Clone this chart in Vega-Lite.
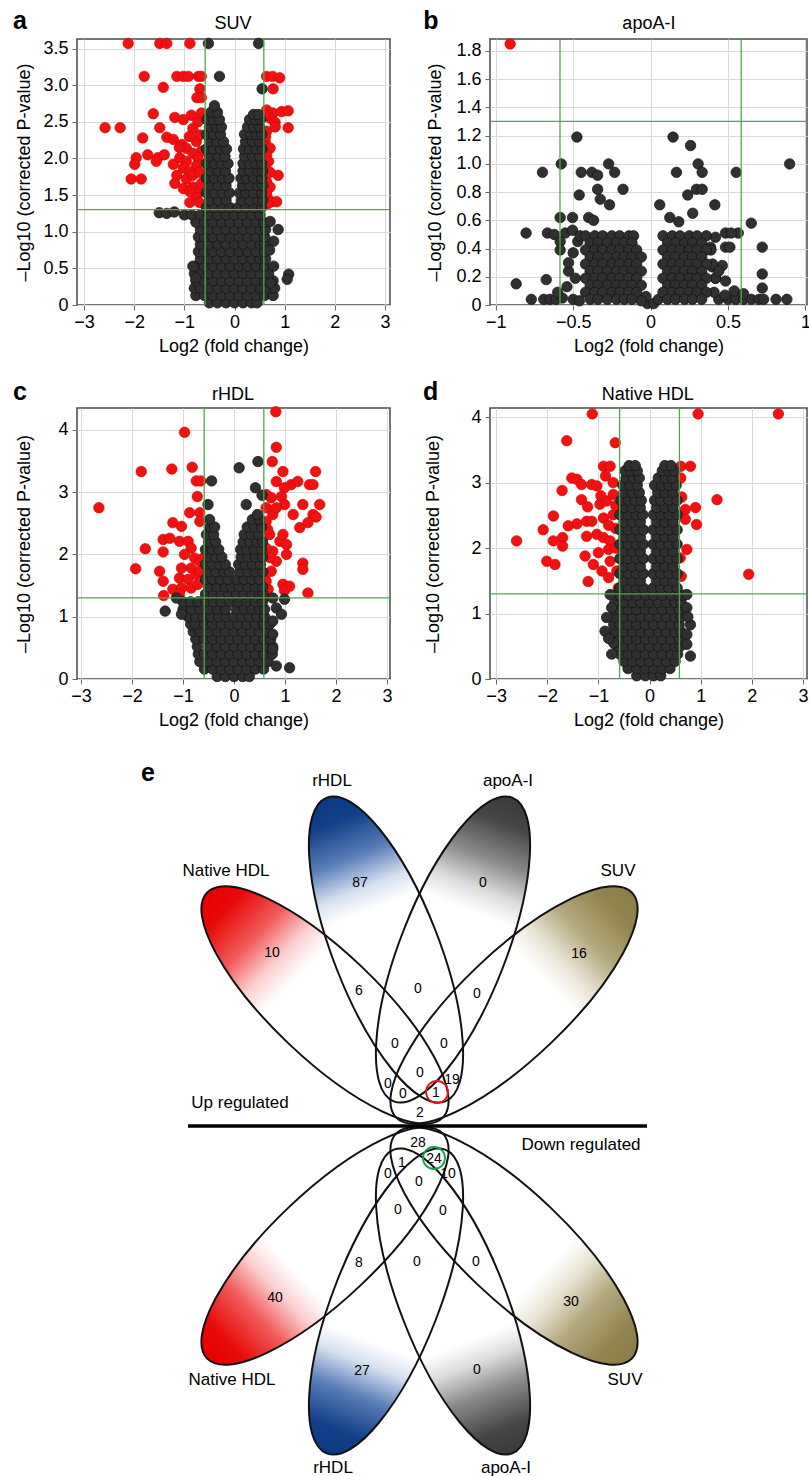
{
"$schema": "https://vega.github.io/schema/vega-lite/v6.json",
"background": "white",
"padding": {"left": 12, "top": 8, "right": 0, "bottom": 0},
"bounds": "flush",
"columns": 2,
"align": "none",
"spacing": {"row": 103, "column": 100},
"config": {
  "font": "Liberation Sans",
  "view": {"stroke": "#4a4a4a", "strokeWidth": 1.5},
  "axis": {"labelFontSize": 18, "titleFontSize": 18, "titleFontWeight": "normal", "labelColor": "#000", "titleColor": "#000", "gridColor": "#d9d9d9", "tickColor": "#666", "tickSize": 5, "domain": false, "labelFlush": false, "labelOverlap": false},
  "axisX": {"labelPadding": 3, "titlePadding": 6},
  "axisY": {"labelPadding": 4}
},
"datasets": {
"va": [{"x":-2.12,"y":3.57},{"x":-1.49,"y":3.57},{"x":-1.35,"y":3.57},{"x":-0.89,"y":3.57},{"x":-1.8,"y":3.12},{"x":-1.15,"y":3.12},{"x":-1.02,"y":3.12},{"x":-0.92,"y":3.12},{"x":-0.72,"y":3.12},{"x":-0.66,"y":3.12},{"x":0.64,"y":3.12},{"x":0.76,"y":3.12},{"x":0.9,"y":3.1},{"x":-1.42,"y":2.97},{"x":-0.69,"y":2.95},{"x":-0.75,"y":2.83},{"x":-0.66,"y":2.83},{"x":0.77,"y":2.95},{"x":-1.62,"y":2.61},{"x":-1.19,"y":2.56},{"x":-0.86,"y":2.59},{"x":-0.73,"y":2.5},{"x":-0.83,"y":2.41},{"x":-1.02,"y":2.53},{"x":-0.66,"y":2.62},{"x":0.64,"y":2.66},{"x":0.77,"y":2.62},{"x":0.94,"y":2.64},{"x":1.07,"y":2.65},{"x":0.71,"y":2.55},{"x":0.81,"y":2.49},{"x":0.61,"y":2.59},{"x":-2.58,"y":2.42},{"x":-2.28,"y":2.42},{"x":-1.49,"y":2.42},{"x":1.07,"y":2.42},{"x":0.81,"y":2.43},{"x":-1.83,"y":2.28},{"x":-1.35,"y":2.29},{"x":-1.22,"y":2.26},{"x":-1.05,"y":2.19},{"x":-0.96,"y":2.14},{"x":-0.76,"y":2.23},{"x":-0.69,"y":2.32},{"x":-0.9,"y":2.3},{"x":-1.1,"y":2.15},{"x":-0.66,"y":2.1},{"x":0.64,"y":2.37},{"x":0.61,"y":2.23},{"x":0.71,"y":2.14},{"x":0.64,"y":2.05},{"x":0.68,"y":1.96},{"x":0.62,"y":2.3},{"x":0.62,"y":1.88},{"x":-1.96,"y":2.01},{"x":-1.73,"y":2.05},{"x":-1.53,"y":2.01},{"x":-1.4,"y":2.05},{"x":-1.99,"y":1.92},{"x":-1.22,"y":1.92},{"x":-1.09,"y":2.01},{"x":-0.96,"y":1.96},{"x":-0.83,"y":2.07},{"x":-0.73,"y":2.01},{"x":-1.02,"y":1.87},{"x":-0.76,"y":1.9},{"x":-0.9,"y":1.82},{"x":-1.56,"y":1.96},{"x":-2.06,"y":1.72},{"x":-1.86,"y":1.72},{"x":-1.15,"y":1.77},{"x":-0.96,"y":1.72},{"x":-0.83,"y":1.77},{"x":-0.69,"y":1.81},{"x":-1.19,"y":1.66},{"x":-1.02,"y":1.59},{"x":-0.83,"y":1.61},{"x":-0.69,"y":1.55},{"x":-0.76,"y":1.47},{"x":-0.89,"y":1.55},{"x":-0.89,"y":1.4},{"x":-0.7,"y":1.4},{"x":-0.66,"y":1.66},{"x":0.64,"y":1.68},{"x":0.71,"y":1.61},{"x":0.87,"y":1.77},{"x":0.64,"y":1.5},{"x":0.74,"y":1.41},{"x":0.84,"y":1.41},{"x":0.64,"y":1.55},{"x":0.71,"y":1.81},{"x":0.66,"y":1.38},
{"x":-0.5,"y":0.03},{"x":-0.34,"y":0.03},{"x":-0.17,"y":0.03},{"x":0,"y":0.03},{"x":0.17,"y":0.03},{"x":0.34,"y":0.03},{"x":0.45,"y":0.03},
{"x":-0.77,"y":0.13},{"x":-0.6,"y":0.13},{"x":-0.43,"y":0.13},{"x":-0.26,"y":0.13},{"x":-0.09,"y":0.13},{"x":0.09,"y":0.13},{"x":0.26,"y":0.13},{"x":0.43,"y":0.13},{"x":0.6,"y":0.13},{"x":0.77,"y":0.13},
{"x":-0.8,"y":0.23},{"x":-0.68,"y":0.23},{"x":-0.51,"y":0.23},{"x":-0.34,"y":0.23},{"x":-0.17,"y":0.23},{"x":0,"y":0.23},{"x":0.17,"y":0.23},{"x":0.34,"y":0.23},{"x":0.51,"y":0.23},{"x":0.68,"y":0.23},{"x":0.8,"y":0.23},
{"x":-0.77,"y":0.33},{"x":-0.6,"y":0.33},{"x":-0.43,"y":0.33},{"x":-0.26,"y":0.33},{"x":-0.09,"y":0.33},{"x":0.09,"y":0.33},{"x":0.26,"y":0.33},{"x":0.43,"y":0.33},{"x":0.6,"y":0.33},{"x":0.77,"y":0.33},
{"x":-0.8,"y":0.43},{"x":-0.68,"y":0.43},{"x":-0.51,"y":0.43},{"x":-0.34,"y":0.43},{"x":-0.17,"y":0.43},{"x":0,"y":0.43},{"x":0.17,"y":0.43},{"x":0.34,"y":0.43},{"x":0.51,"y":0.43},{"x":0.68,"y":0.43},
{"x":-0.77,"y":0.53},{"x":-0.6,"y":0.53},{"x":-0.43,"y":0.53},{"x":-0.26,"y":0.53},{"x":-0.09,"y":0.53},{"x":0.09,"y":0.53},{"x":0.26,"y":0.53},{"x":0.43,"y":0.53},{"x":0.6,"y":0.53},
{"x":-0.68,"y":0.63},{"x":-0.51,"y":0.63},{"x":-0.34,"y":0.63},{"x":-0.17,"y":0.63},{"x":0,"y":0.63},{"x":0.17,"y":0.63},{"x":0.34,"y":0.63},{"x":0.51,"y":0.63},{"x":0.62,"y":0.63},
{"x":-0.72,"y":0.73},{"x":-0.6,"y":0.73},{"x":-0.43,"y":0.73},{"x":-0.26,"y":0.73},{"x":-0.09,"y":0.73},{"x":0.09,"y":0.73},{"x":0.26,"y":0.73},{"x":0.43,"y":0.73},{"x":0.6,"y":0.73},
{"x":-0.68,"y":0.83},{"x":-0.51,"y":0.83},{"x":-0.34,"y":0.83},{"x":-0.17,"y":0.83},{"x":0,"y":0.83},{"x":0.17,"y":0.83},{"x":0.34,"y":0.83},{"x":0.51,"y":0.83},{"x":0.6,"y":0.83},
{"x":-0.72,"y":0.93},{"x":-0.6,"y":0.93},{"x":-0.43,"y":0.93},{"x":-0.26,"y":0.93},{"x":-0.09,"y":0.93},{"x":0.09,"y":0.93},{"x":0.26,"y":0.93},{"x":0.43,"y":0.93},{"x":0.6,"y":0.93},
{"x":-0.68,"y":1.03},{"x":-0.51,"y":1.03},{"x":-0.34,"y":1.03},{"x":-0.17,"y":1.03},{"x":0,"y":1.03},{"x":0.17,"y":1.03},{"x":0.34,"y":1.03},{"x":0.51,"y":1.03},{"x":0.62,"y":1.03},
{"x":-0.77,"y":1.13},{"x":-0.6,"y":1.13},{"x":-0.43,"y":1.13},{"x":-0.26,"y":1.13},{"x":-0.09,"y":1.13},{"x":0.09,"y":1.13},{"x":0.26,"y":1.13},{"x":0.43,"y":1.13},{"x":0.58,"y":1.13},
{"x":-1.0,"y":1.23},{"x":-0.85,"y":1.23},{"x":-0.68,"y":1.23},{"x":-0.51,"y":1.23},{"x":-0.34,"y":1.23},{"x":-0.17,"y":1.23},{"x":0,"y":1.23},{"x":0.17,"y":1.23},{"x":0.34,"y":1.23},{"x":0.51,"y":1.23},
{"x":-1.5,"y":1.26},{"x":-1.35,"y":1.25},{"x":-1.2,"y":1.27},
{"x":-0.56,"y":1.33},{"x":-0.4,"y":1.33},{"x":-0.24,"y":1.33},{"x":-0.09,"y":1.33},{"x":0.07,"y":1.33},{"x":0.22,"y":1.33},{"x":0.38,"y":1.33},{"x":0.54,"y":1.33},
{"x":-0.5,"y":1.43},{"x":-0.33,"y":1.43},{"x":-0.17,"y":1.43},{"x":0.14,"y":1.43},{"x":0.3,"y":1.43},{"x":0.46,"y":1.43},{"x":0.56,"y":1.43},
{"x":-0.56,"y":1.53},{"x":-0.4,"y":1.53},{"x":-0.24,"y":1.53},{"x":-0.1,"y":1.53},{"x":0.1,"y":1.53},{"x":0.22,"y":1.53},{"x":0.38,"y":1.53},{"x":0.54,"y":1.53},
{"x":-0.5,"y":1.63},{"x":-0.33,"y":1.63},{"x":-0.17,"y":1.63},{"x":0.16,"y":1.63},{"x":0.3,"y":1.63},{"x":0.46,"y":1.63},{"x":0.56,"y":1.63},
{"x":-0.56,"y":1.73},{"x":-0.4,"y":1.73},{"x":-0.24,"y":1.73},{"x":-0.11,"y":1.73},{"x":0.13,"y":1.73},{"x":0.24,"y":1.73},{"x":0.38,"y":1.73},{"x":0.54,"y":1.73},
{"x":-0.5,"y":1.83},{"x":-0.33,"y":1.83},{"x":-0.18,"y":1.83},{"x":0.17,"y":1.83},{"x":0.3,"y":1.83},{"x":0.46,"y":1.83},{"x":0.56,"y":1.83},
{"x":-0.56,"y":1.93},{"x":-0.4,"y":1.93},{"x":-0.26,"y":1.93},{"x":-0.13,"y":1.93},{"x":0.17,"y":1.93},{"x":0.3,"y":1.93},{"x":0.42,"y":1.93},{"x":0.54,"y":1.93},
{"x":-0.5,"y":2.03},{"x":-0.33,"y":2.03},{"x":-0.19,"y":2.03},{"x":0.2,"y":2.03},{"x":0.36,"y":2.03},{"x":0.5,"y":2.03},
{"x":-0.56,"y":2.13},{"x":-0.42,"y":2.13},{"x":-0.28,"y":2.13},{"x":-0.16,"y":2.13},{"x":0.18,"y":2.13},{"x":0.3,"y":2.13},{"x":0.43,"y":2.13},{"x":0.55,"y":2.13},
{"x":-0.5,"y":2.23},{"x":-0.35,"y":2.23},{"x":-0.22,"y":2.23},{"x":0.22,"y":2.23},{"x":0.36,"y":2.23},{"x":0.5,"y":2.23},
{"x":-0.56,"y":2.33},{"x":-0.42,"y":2.33},{"x":-0.28,"y":2.33},{"x":0.2,"y":2.33},{"x":0.32,"y":2.33},{"x":0.44,"y":2.33},{"x":0.54,"y":2.33},
{"x":-0.5,"y":2.43},{"x":-0.36,"y":2.43},{"x":-0.26,"y":2.43},{"x":0.26,"y":2.43},{"x":0.38,"y":2.43},{"x":0.5,"y":2.43},
{"x":-0.55,"y":2.53},{"x":-0.42,"y":2.53},{"x":-0.3,"y":2.53},{"x":0.3,"y":2.53},{"x":0.42,"y":2.53},{"x":0.52,"y":2.53},
{"x":-0.47,"y":2.63},{"x":-0.34,"y":2.63},{"x":0.38,"y":2.6},{"x":0.47,"y":2.6},{"x":-0.4,"y":2.72},
{"x":-0.3,"y":3.12},{"x":0.55,"y":2.95},{"x":-0.52,"y":3.57},{"x":0.48,"y":3.57},{"x":0.87,"y":1.03},{"x":0.71,"y":1.14},{"x":0.78,"y":0.87},{"x":0.78,"y":0.53},{"x":1.08,"y":0.42},{"x":1.05,"y":0.35},{"x":-0.83,"y":0.53},{"x":-0.77,"y":0.37},{"x":0.7,"y":0.75},{"x":0.72,"y":0.3}],
"vb": [{"x":-0.907,"y":1.85},
{"x":-0.476,"y":1.19},{"x":0.145,"y":1.19},{"x":0.258,"y":1.13},{"x":-0.577,"y":1.0},{"x":-0.271,"y":1.0},{"x":0.307,"y":1.0},{"x":0.898,"y":1.0},{"x":-0.698,"y":0.94},{"x":-0.448,"y":0.94},{"x":-0.379,"y":0.94},{"x":-0.342,"y":0.92},{"x":-0.232,"y":0.94},{"x":0.167,"y":0.94},{"x":0.333,"y":0.94},{"x":0.553,"y":0.94},{"x":-0.342,"y":0.82},{"x":-0.178,"y":0.82},{"x":0.296,"y":0.82},{"x":0.333,"y":0.82},{"x":-0.461,"y":0.78},{"x":-0.325,"y":0.75},{"x":0.24,"y":0.78},{"x":-0.265,"y":0.71},{"x":0.059,"y":0.71},{"x":0.415,"y":0.71},{"x":0.272,"y":0.65},{"x":-0.584,"y":0.62},{"x":-0.504,"y":0.62},{"x":-0.4,"y":0.62},{"x":-0.368,"y":0.6},{"x":0.124,"y":0.62},{"x":0.182,"y":0.59},{"x":0.65,"y":0.58},{"x":-0.804,"y":0.51},{"x":-0.666,"y":0.51},{"x":-0.622,"y":0.5},{"x":-0.551,"y":0.51},{"x":-0.504,"y":0.53},{"x":-0.584,"y":0.45},{"x":-0.584,"y":0.39},{"x":0.419,"y":0.48},{"x":0.484,"y":0.51},{"x":0.566,"y":0.51},{"x":0.52,"y":0.51},{"x":0.484,"y":0.41},{"x":0.512,"y":0.41},{"x":0.387,"y":0.41},{"x":0.721,"y":0.41},{"x":0.398,"y":0.27},{"x":0.463,"y":0.28},{"x":0.419,"y":0.19},{"x":0.484,"y":0.17},{"x":0.721,"y":0.22},{"x":0.721,"y":0.12},{"x":-0.674,"y":0.18},{"x":-0.868,"y":0.15},{"x":-0.53,"y":0.24},{"x":-0.486,"y":0.19},{"x":-0.54,"y":0.13},{"x":-0.53,"y":0.3},{"x":-0.5,"y":0.37},{"x":-0.47,"y":0.45},{"x":-0.455,"y":0.49},
{"x":-0.77,"y":0.04},{"x":-0.69,"y":0.04},{"x":-0.65,"y":0.04},{"x":-0.61,"y":0.04},{"x":-0.57,"y":0.05},{"x":-0.5,"y":0.04},{"x":-0.46,"y":0.03},{"x":0.44,"y":0.04},{"x":0.5,"y":0.04},{"x":0.55,"y":0.04},{"x":0.6,"y":0.04},{"x":0.65,"y":0.04},{"x":0.7,"y":0.04},{"x":0.73,"y":0.04},{"x":0.81,"y":0.04},{"x":0.88,"y":0.04},{"x":-0.02,"y":0.01},{"x":0.02,"y":0.01},{"x":0.05,"y":0.04},{"x":-0.03,"y":0.06},{"x":0.54,"y":0.1},{"x":0.6,"y":0.08},{"x":0.48,"y":0.07},{"x":-0.6,"y":0.09},
{"x":0.4,"y":0.29},{"x":0.42,"y":0.19},{"x":0.41,"y":0.09},{"x":0.39,"y":0.39},{"x":0.44,"y":0.24},
{"x":-0.42,"y":0.49},{"x":-0.36,"y":0.49},{"x":-0.31,"y":0.49},{"x":-0.25,"y":0.49},{"x":-0.2,"y":0.49},{"x":-0.14,"y":0.49},{"x":-0.11,"y":0.49},{"x":0.08,"y":0.49},{"x":0.14,"y":0.49},{"x":0.19,"y":0.49},{"x":0.25,"y":0.49},{"x":0.3,"y":0.49},{"x":0.36,"y":0.49},
{"x":-0.39,"y":0.44},{"x":-0.34,"y":0.44},{"x":-0.28,"y":0.44},{"x":-0.22,"y":0.44},{"x":-0.17,"y":0.44},{"x":-0.12,"y":0.44},{"x":0.11,"y":0.44},{"x":0.16,"y":0.44},{"x":0.22,"y":0.44},{"x":0.27,"y":0.44},{"x":0.33,"y":0.44},
{"x":-0.42,"y":0.39},{"x":-0.36,"y":0.39},{"x":-0.31,"y":0.39},{"x":-0.25,"y":0.39},{"x":-0.2,"y":0.39},{"x":-0.14,"y":0.39},{"x":-0.09,"y":0.39},{"x":0.08,"y":0.39},{"x":0.14,"y":0.39},{"x":0.19,"y":0.39},{"x":0.25,"y":0.39},{"x":0.3,"y":0.39},{"x":0.36,"y":0.39},
{"x":-0.39,"y":0.34},{"x":-0.34,"y":0.34},{"x":-0.28,"y":0.34},{"x":-0.22,"y":0.34},{"x":-0.17,"y":0.34},{"x":-0.12,"y":0.34},{"x":-0.06,"y":0.34},{"x":0.11,"y":0.34},{"x":0.16,"y":0.34},{"x":0.22,"y":0.34},{"x":0.27,"y":0.34},{"x":0.33,"y":0.34},
{"x":-0.42,"y":0.29},{"x":-0.36,"y":0.29},{"x":-0.31,"y":0.29},{"x":-0.25,"y":0.29},{"x":-0.2,"y":0.29},{"x":-0.14,"y":0.29},{"x":-0.09,"y":0.29},{"x":0.08,"y":0.29},{"x":0.14,"y":0.29},{"x":0.19,"y":0.29},{"x":0.25,"y":0.29},{"x":0.3,"y":0.29},{"x":0.36,"y":0.29},
{"x":-0.39,"y":0.24},{"x":-0.34,"y":0.24},{"x":-0.28,"y":0.24},{"x":-0.22,"y":0.24},{"x":-0.17,"y":0.24},{"x":-0.12,"y":0.24},{"x":-0.06,"y":0.24},{"x":0.11,"y":0.24},{"x":0.16,"y":0.24},{"x":0.22,"y":0.24},{"x":0.27,"y":0.24},{"x":0.33,"y":0.24},
{"x":-0.42,"y":0.19},{"x":-0.36,"y":0.19},{"x":-0.31,"y":0.19},{"x":-0.25,"y":0.19},{"x":-0.2,"y":0.19},{"x":-0.14,"y":0.19},{"x":-0.09,"y":0.19},{"x":0.08,"y":0.19},{"x":0.14,"y":0.19},{"x":0.19,"y":0.19},{"x":0.25,"y":0.19},{"x":0.3,"y":0.19},{"x":0.36,"y":0.19},
{"x":-0.39,"y":0.14},{"x":-0.34,"y":0.14},{"x":-0.28,"y":0.14},{"x":-0.22,"y":0.14},{"x":-0.17,"y":0.14},{"x":-0.12,"y":0.14},{"x":-0.06,"y":0.14},{"x":0.11,"y":0.14},{"x":0.16,"y":0.14},{"x":0.22,"y":0.14},{"x":0.27,"y":0.14},{"x":0.33,"y":0.14},
{"x":-0.42,"y":0.09},{"x":-0.36,"y":0.09},{"x":-0.31,"y":0.09},{"x":-0.25,"y":0.09},{"x":-0.2,"y":0.09},{"x":-0.14,"y":0.09},{"x":-0.09,"y":0.09},{"x":0.08,"y":0.09},{"x":0.14,"y":0.09},{"x":0.19,"y":0.09},{"x":0.25,"y":0.09},{"x":0.3,"y":0.09},{"x":0.36,"y":0.09},
{"x":-0.39,"y":0.04},{"x":-0.34,"y":0.04},{"x":-0.28,"y":0.04},{"x":-0.22,"y":0.04},{"x":-0.17,"y":0.04},{"x":-0.12,"y":0.04},{"x":-0.06,"y":0.03},{"x":0.11,"y":0.04},{"x":0.16,"y":0.04},{"x":0.22,"y":0.04},{"x":0.27,"y":0.04},{"x":0.33,"y":0.04}],
"vc": [{"x":-2.65,"y":2.75},{"x":-1.82,"y":3.33},{"x":-1.93,"y":1.77},{"x":-1.74,"y":2.09},{"x":-1.39,"y":2.24},{"x":-1.26,"y":2.26},{"x":-1.39,"y":2.04},{"x":-1.2,"y":2.51},{"x":-1.03,"y":2.45},{"x":-1.22,"y":3.37},{"x":-0.97,"y":3.96},{"x":-0.82,"y":3.4},{"x":-0.74,"y":3.18},{"x":-0.65,"y":3.18},{"x":-0.72,"y":2.93},{"x":-0.87,"y":2.67},{"x":-0.67,"y":2.67},{"x":-0.67,"y":2.53},{"x":-1.07,"y":2.21},{"x":-0.9,"y":2.21},{"x":-0.84,"y":2.1},{"x":-0.97,"y":2.0},{"x":-0.77,"y":1.94},{"x":-1.03,"y":1.78},{"x":-0.84,"y":1.78},{"x":-0.67,"y":1.89},{"x":-1.46,"y":1.73},{"x":-1.39,"y":1.57},{"x":-1.07,"y":1.62},{"x":-0.9,"y":1.6},{"x":-0.74,"y":1.68},{"x":-0.67,"y":1.73},{"x":-0.61,"y":1.94},{"x":-1.2,"y":1.44},{"x":-1.03,"y":1.46},{"x":-0.84,"y":1.46},{"x":-0.71,"y":1.52},{"x":-1.38,"y":1.34},{"x":-1.07,"y":1.37},
{"x":0.82,"y":4.29},{"x":0.83,"y":3.72},{"x":0.75,"y":3.49},{"x":0.96,"y":3.33},{"x":1.6,"y":3.33},{"x":1.12,"y":3.12},{"x":1.25,"y":3.17},{"x":0.83,"y":3.17},{"x":0.99,"y":3.07},{"x":1.48,"y":3.12},{"x":1.55,"y":3.12},{"x":0.63,"y":2.96},{"x":0.73,"y":2.91},{"x":0.93,"y":2.93},{"x":0.76,"y":2.64},{"x":0.99,"y":2.8},{"x":0.63,"y":2.75},{"x":0.83,"y":2.75},{"x":1.16,"y":2.64},{"x":1.35,"y":2.8},{"x":1.68,"y":2.8},{"x":1.55,"y":2.64},{"x":1.61,"y":2.6},{"x":1.29,"y":2.43},{"x":1.45,"y":2.51},{"x":0.63,"y":2.53},{"x":0.7,"y":2.32},{"x":0.9,"y":2.21},{"x":0.96,"y":2.32},{"x":1.03,"y":2.16},{"x":0.76,"y":2.05},{"x":0.63,"y":2.1},{"x":0.83,"y":1.89},{"x":1.03,"y":2.0},{"x":1.35,"y":1.86},{"x":1.35,"y":1.76},{"x":0.73,"y":1.73},{"x":0.62,"y":1.68},{"x":0.63,"y":1.57},{"x":0.96,"y":1.52},{"x":1.09,"y":1.49},{"x":0.99,"y":1.42},{"x":0.67,"y":1.44},{"x":1.45,"y":1.38},{"x":0.63,"y":1.33},{"x":0.7,"y":1.95},{"x":0.66,"y":2.4},
{"x":-0.33,"y":0.04},{"x":-0.17,"y":0.04},{"x":0,"y":0.04},{"x":0.17,"y":0.04},{"x":0.3,"y":0.04},
{"x":-0.58,"y":0.16},{"x":-0.42,"y":0.16},{"x":-0.25,"y":0.16},{"x":-0.08,"y":0.16},{"x":0.08,"y":0.16},{"x":0.25,"y":0.16},{"x":0.42,"y":0.16},{"x":0.58,"y":0.16},
{"x":-0.67,"y":0.28},{"x":-0.5,"y":0.28},{"x":-0.33,"y":0.28},{"x":-0.17,"y":0.28},{"x":0,"y":0.28},{"x":0.17,"y":0.28},{"x":0.33,"y":0.28},{"x":0.5,"y":0.28},{"x":0.67,"y":0.28},
{"x":-0.7,"y":0.4},{"x":-0.58,"y":0.4},{"x":-0.42,"y":0.4},{"x":-0.25,"y":0.4},{"x":-0.08,"y":0.4},{"x":0.08,"y":0.4},{"x":0.25,"y":0.4},{"x":0.42,"y":0.4},{"x":0.58,"y":0.4},{"x":0.75,"y":0.4},
{"x":-0.72,"y":0.52},{"x":-0.5,"y":0.52},{"x":-0.33,"y":0.52},{"x":-0.17,"y":0.52},{"x":0,"y":0.52},{"x":0.17,"y":0.52},{"x":0.33,"y":0.52},{"x":0.5,"y":0.52},{"x":0.67,"y":0.52},{"x":0.76,"y":0.52},
{"x":-0.75,"y":0.64},{"x":-0.58,"y":0.64},{"x":-0.42,"y":0.64},{"x":-0.25,"y":0.64},{"x":-0.08,"y":0.64},{"x":0.08,"y":0.64},{"x":0.25,"y":0.64},{"x":0.42,"y":0.64},{"x":0.58,"y":0.64},{"x":0.72,"y":0.64},
{"x":-0.8,"y":0.76},{"x":-0.67,"y":0.76},{"x":-0.5,"y":0.76},{"x":-0.33,"y":0.76},{"x":-0.17,"y":0.76},{"x":0,"y":0.76},{"x":0.17,"y":0.76},{"x":0.33,"y":0.76},{"x":0.5,"y":0.76},{"x":0.67,"y":0.76},
{"x":-0.85,"y":0.88},{"x":-0.75,"y":0.88},{"x":-0.58,"y":0.88},{"x":-0.42,"y":0.88},{"x":-0.25,"y":0.88},{"x":-0.08,"y":0.88},{"x":0.08,"y":0.88},{"x":0.25,"y":0.88},{"x":0.42,"y":0.88},{"x":0.58,"y":0.88},{"x":0.7,"y":0.88},
{"x":-0.9,"y":1.0},{"x":-0.75,"y":1.0},{"x":-0.6,"y":1.0},{"x":-0.45,"y":1.0},{"x":-0.3,"y":1.0},{"x":-0.15,"y":1.0},{"x":0,"y":1.0},{"x":0.15,"y":1.0},{"x":0.3,"y":1.0},{"x":0.45,"y":1.0},{"x":0.6,"y":1.0},
{"x":-1.0,"y":1.12},{"x":-0.83,"y":1.12},{"x":-0.67,"y":1.12},{"x":-0.5,"y":1.12},{"x":-0.33,"y":1.12},{"x":-0.17,"y":1.12},{"x":0.05,"y":1.12},{"x":0.2,"y":1.12},{"x":0.35,"y":1.12},{"x":0.5,"y":1.12},{"x":0.6,"y":1.12},
{"x":-1.0,"y":1.24},{"x":-0.85,"y":1.24},{"x":-0.7,"y":1.24},{"x":-0.55,"y":1.24},{"x":-0.4,"y":1.24},{"x":-0.25,"y":1.24},{"x":-0.08,"y":1.24},{"x":0.08,"y":1.24},{"x":0.25,"y":1.24},{"x":0.42,"y":1.24},{"x":0.56,"y":1.24},
{"x":-0.56,"y":1.36},{"x":-0.4,"y":1.36},{"x":-0.25,"y":1.36},{"x":-0.1,"y":1.36},{"x":0.05,"y":1.36},{"x":0.2,"y":1.36},{"x":0.35,"y":1.36},{"x":0.5,"y":1.36},{"x":0.57,"y":1.36},
{"x":-0.5,"y":1.48},{"x":-0.33,"y":1.48},{"x":-0.17,"y":1.48},{"x":-0.05,"y":1.48},{"x":0.1,"y":1.48},{"x":0.27,"y":1.48},{"x":0.42,"y":1.48},{"x":0.56,"y":1.48},
{"x":-0.56,"y":1.6},{"x":-0.42,"y":1.6},{"x":-0.27,"y":1.6},{"x":-0.12,"y":1.6},{"x":0.06,"y":1.6},{"x":0.2,"y":1.6},{"x":0.35,"y":1.6},{"x":0.5,"y":1.6},
{"x":-0.5,"y":1.72},{"x":-0.35,"y":1.72},{"x":-0.2,"y":1.72},{"x":-0.09,"y":1.72},{"x":0.12,"y":1.72},{"x":0.27,"y":1.72},{"x":0.42,"y":1.72},{"x":0.56,"y":1.72},
{"x":-0.56,"y":1.84},{"x":-0.42,"y":1.84},{"x":-0.28,"y":1.84},{"x":-0.17,"y":1.84},{"x":0.09,"y":1.84},{"x":0.22,"y":1.84},{"x":0.36,"y":1.84},{"x":0.52,"y":1.84},
{"x":-0.5,"y":1.96},{"x":-0.36,"y":1.96},{"x":-0.24,"y":1.96},{"x":0.14,"y":1.96},{"x":0.28,"y":1.96},{"x":0.42,"y":1.96},{"x":0.56,"y":1.96},
{"x":-0.56,"y":2.08},{"x":-0.43,"y":2.08},{"x":-0.3,"y":2.08},{"x":0.13,"y":2.08},{"x":0.26,"y":2.08},{"x":0.4,"y":2.08},{"x":0.54,"y":2.08},
{"x":-0.5,"y":2.2},{"x":-0.36,"y":2.2},{"x":0.18,"y":2.2},{"x":0.31,"y":2.2},{"x":0.45,"y":2.2},{"x":0.56,"y":2.2},
{"x":-0.54,"y":2.32},{"x":-0.4,"y":2.32},{"x":0.2,"y":2.32},{"x":0.34,"y":2.32},{"x":0.48,"y":2.32},
{"x":-0.47,"y":2.44},{"x":-0.38,"y":2.44},{"x":0.26,"y":2.44},{"x":0.4,"y":2.44},{"x":0.54,"y":2.44},
{"x":-0.48,"y":2.56},{"x":0.36,"y":2.56},{"x":0.5,"y":2.56},{"x":0.46,"y":2.64},
{"x":-1.35,"y":1.09},{"x":-1.13,"y":1.3},{"x":-1.03,"y":1.04},{"x":0.76,"y":1.3},{"x":0.83,"y":1.14},{"x":0.76,"y":0.93},{"x":0.93,"y":1.04},{"x":0.99,"y":1.28},{"x":0.76,"y":0.72},{"x":0.76,"y":0.48},{"x":1.09,"y":0.18},{"x":0.83,"y":0.21},{"x":0.47,"y":3.49},{"x":0.1,"y":3.39},{"x":0.42,"y":3.07},{"x":0.55,"y":2.95},{"x":0.24,"y":2.8},{"x":-0.44,"y":3.18},{"x":-0.51,"y":2.8}],
"vd": [{"x":-1.12,"y":4.05},{"x":0.95,"y":4.05},{"x":2.52,"y":4.05},{"x":-1.62,"y":3.64},{"x":-0.67,"y":3.61},{"x":-0.9,"y":3.25},{"x":-0.77,"y":3.25},{"x":-1.52,"y":3.07},{"x":-1.42,"y":3.05},{"x":-1.33,"y":2.97},{"x":-1.13,"y":2.97},{"x":-1.03,"y":2.95},{"x":-0.86,"y":3.1},{"x":-0.71,"y":3.0},{"x":-1.71,"y":2.88},{"x":-1.33,"y":2.74},{"x":-0.97,"y":2.67},{"x":-0.84,"y":2.72},{"x":-0.71,"y":2.82},{"x":-1.21,"y":2.63},{"x":-1.88,"y":2.49},{"x":-1.42,"y":2.37},{"x":-1.59,"y":2.34},{"x":-2.08,"y":2.28},{"x":-1.23,"y":2.41},{"x":-1.13,"y":2.41},{"x":-0.9,"y":2.46},{"x":-0.71,"y":2.51},{"x":-1.7,"y":2.16},{"x":-1.88,"y":2.11},{"x":-2.6,"y":2.11},{"x":-1.7,"y":2.03},{"x":-1.23,"y":2.18},{"x":-1.03,"y":2.21},{"x":-0.9,"y":2.16},{"x":-0.77,"y":2.11},{"x":-1.26,"y":1.88},{"x":-1.0,"y":1.93},{"x":-0.8,"y":1.98},{"x":-2.01,"y":1.8},{"x":-1.85,"y":1.75},{"x":-1.1,"y":1.75},{"x":-0.93,"y":1.65},{"x":-0.8,"y":1.55},{"x":-1.2,"y":1.49},{"x":-0.77,"y":1.8},{"x":-0.64,"y":1.65},{"x":-0.61,"y":1.39},{"x":-0.66,"y":2.3},{"x":-0.66,"y":2.0},{"x":-0.66,"y":2.65},{"x":-0.8,"y":2.35},{"x":-0.95,"y":2.8},
{"x":1.32,"y":2.74},{"x":1.94,"y":1.6},{"x":0.61,"y":3.25},{"x":0.8,"y":3.25},{"x":0.61,"y":3.07},{"x":0.63,"y":2.78},{"x":0.7,"y":2.59},{"x":0.9,"y":2.62},{"x":0.7,"y":2.44},{"x":0.92,"y":2.36},{"x":0.73,"y":1.98},{"x":0.6,"y":1.85},{"x":0.62,"y":1.57},
{"x":-0.25,"y":0.05},{"x":-0.08,"y":0.05},{"x":0.08,"y":0.05},{"x":0.22,"y":0.05},
{"x":-0.42,"y":0.16},{"x":-0.25,"y":0.16},{"x":-0.08,"y":0.16},{"x":0.08,"y":0.16},{"x":0.25,"y":0.16},{"x":0.4,"y":0.16},
{"x":-0.5,"y":0.27},{"x":-0.33,"y":0.27},{"x":-0.17,"y":0.27},{"x":0,"y":0.27},{"x":0.17,"y":0.27},{"x":0.33,"y":0.27},{"x":0.5,"y":0.27},
{"x":-0.58,"y":0.38},{"x":-0.42,"y":0.38},{"x":-0.25,"y":0.38},{"x":-0.08,"y":0.38},{"x":0.08,"y":0.38},{"x":0.25,"y":0.38},{"x":0.42,"y":0.38},{"x":0.55,"y":0.38},
{"x":-0.63,"y":0.5},{"x":-0.5,"y":0.5},{"x":-0.33,"y":0.5},{"x":-0.17,"y":0.5},{"x":0,"y":0.5},{"x":0.17,"y":0.5},{"x":0.33,"y":0.5},{"x":0.5,"y":0.5},{"x":0.6,"y":0.5},
{"x":-0.66,"y":0.61},{"x":-0.58,"y":0.61},{"x":-0.42,"y":0.61},{"x":-0.25,"y":0.61},{"x":-0.08,"y":0.61},{"x":0.08,"y":0.61},{"x":0.25,"y":0.61},{"x":0.42,"y":0.61},{"x":0.58,"y":0.61},
{"x":-0.68,"y":0.72},{"x":-0.5,"y":0.72},{"x":-0.33,"y":0.72},{"x":-0.17,"y":0.72},{"x":0,"y":0.72},{"x":0.17,"y":0.72},{"x":0.33,"y":0.72},{"x":0.5,"y":0.72},{"x":0.62,"y":0.72},
{"x":-0.7,"y":0.83},{"x":-0.58,"y":0.83},{"x":-0.42,"y":0.83},{"x":-0.25,"y":0.83},{"x":-0.08,"y":0.83},{"x":0.08,"y":0.83},{"x":0.25,"y":0.83},{"x":0.42,"y":0.83},{"x":0.58,"y":0.83},
{"x":-0.68,"y":0.95},{"x":-0.5,"y":0.95},{"x":-0.33,"y":0.95},{"x":-0.17,"y":0.95},{"x":0,"y":0.95},{"x":0.17,"y":0.95},{"x":0.33,"y":0.95},{"x":0.5,"y":0.95},{"x":0.62,"y":0.95},
{"x":-0.7,"y":1.06},{"x":-0.58,"y":1.06},{"x":-0.42,"y":1.06},{"x":-0.25,"y":1.06},{"x":-0.08,"y":1.06},{"x":0.08,"y":1.06},{"x":0.25,"y":1.06},{"x":0.42,"y":1.06},{"x":0.58,"y":1.06},
{"x":-0.68,"y":1.17},{"x":-0.5,"y":1.17},{"x":-0.33,"y":1.17},{"x":-0.17,"y":1.17},{"x":0,"y":1.17},{"x":0.17,"y":1.17},{"x":0.33,"y":1.17},{"x":0.5,"y":1.17},{"x":0.62,"y":1.17},
{"x":-0.66,"y":1.28},{"x":-0.58,"y":1.28},{"x":-0.42,"y":1.28},{"x":-0.25,"y":1.28},{"x":-0.08,"y":1.28},{"x":0.08,"y":1.28},{"x":0.25,"y":1.28},{"x":0.42,"y":1.28},{"x":0.58,"y":1.28},{"x":0.66,"y":1.28},
{"x":-0.58,"y":1.39},{"x":-0.42,"y":1.39},{"x":-0.26,"y":1.39},{"x":-0.12,"y":1.39},{"x":0.07,"y":1.39},{"x":0.22,"y":1.39},{"x":0.38,"y":1.39},{"x":0.54,"y":1.39},
{"x":-0.5,"y":1.5},{"x":-0.34,"y":1.5},{"x":-0.18,"y":1.5},{"x":0.14,"y":1.5},{"x":0.3,"y":1.5},{"x":0.46,"y":1.5},
{"x":-0.58,"y":1.61},{"x":-0.42,"y":1.61},{"x":-0.26,"y":1.61},{"x":-0.12,"y":1.61},{"x":0.07,"y":1.61},{"x":0.22,"y":1.61},{"x":0.38,"y":1.61},{"x":0.54,"y":1.61},
{"x":-0.5,"y":1.72},{"x":-0.34,"y":1.72},{"x":-0.18,"y":1.72},{"x":0.14,"y":1.72},{"x":0.3,"y":1.72},{"x":0.46,"y":1.72},
{"x":-0.58,"y":1.84},{"x":-0.42,"y":1.84},{"x":-0.26,"y":1.84},{"x":-0.12,"y":1.84},{"x":0.07,"y":1.84},{"x":0.22,"y":1.84},{"x":0.38,"y":1.84},{"x":0.54,"y":1.84},
{"x":-0.5,"y":1.95},{"x":-0.34,"y":1.95},{"x":-0.18,"y":1.95},{"x":0.14,"y":1.95},{"x":0.3,"y":1.95},{"x":0.46,"y":1.95},
{"x":-0.58,"y":2.06},{"x":-0.42,"y":2.06},{"x":-0.26,"y":2.06},{"x":-0.12,"y":2.06},{"x":0.07,"y":2.06},{"x":0.22,"y":2.06},{"x":0.38,"y":2.06},{"x":0.54,"y":2.06},
{"x":-0.5,"y":2.17},{"x":-0.34,"y":2.17},{"x":-0.18,"y":2.17},{"x":0.14,"y":2.17},{"x":0.3,"y":2.17},{"x":0.46,"y":2.17},
{"x":-0.58,"y":2.28},{"x":-0.42,"y":2.28},{"x":-0.26,"y":2.28},{"x":-0.12,"y":2.28},{"x":0.07,"y":2.28},{"x":0.22,"y":2.28},{"x":0.38,"y":2.28},{"x":0.54,"y":2.28},
{"x":-0.5,"y":2.4},{"x":-0.34,"y":2.4},{"x":-0.18,"y":2.4},{"x":0.14,"y":2.4},{"x":0.3,"y":2.4},{"x":0.46,"y":2.4},
{"x":-0.58,"y":2.51},{"x":-0.42,"y":2.51},{"x":-0.26,"y":2.51},{"x":-0.13,"y":2.51},{"x":0.08,"y":2.51},{"x":0.22,"y":2.51},{"x":0.38,"y":2.51},{"x":0.54,"y":2.51},
{"x":-0.5,"y":2.62},{"x":-0.34,"y":2.62},{"x":-0.18,"y":2.62},{"x":0.14,"y":2.62},{"x":0.3,"y":2.62},{"x":0.46,"y":2.62},
{"x":-0.56,"y":2.73},{"x":-0.42,"y":2.73},{"x":-0.28,"y":2.73},{"x":-0.16,"y":2.73},{"x":0.1,"y":2.73},{"x":0.22,"y":2.73},{"x":0.38,"y":2.73},{"x":0.54,"y":2.73},
{"x":-0.5,"y":2.85},{"x":-0.34,"y":2.85},{"x":-0.2,"y":2.85},{"x":0.16,"y":2.85},{"x":0.3,"y":2.85},{"x":0.46,"y":2.85},
{"x":-0.52,"y":2.96},{"x":-0.38,"y":2.96},{"x":-0.24,"y":2.96},{"x":0.1,"y":2.96},{"x":0.24,"y":2.96},{"x":0.38,"y":2.96},{"x":0.52,"y":2.96},
{"x":-0.46,"y":3.07},{"x":-0.32,"y":3.07},{"x":-0.2,"y":3.07},{"x":0.17,"y":3.07},{"x":0.31,"y":3.07},{"x":0.45,"y":3.07},
{"x":-0.48,"y":3.18},{"x":-0.36,"y":3.18},{"x":-0.24,"y":3.18},{"x":0.25,"y":3.18},{"x":0.38,"y":3.18},{"x":0.48,"y":3.18},
{"x":-0.4,"y":3.26},{"x":-0.28,"y":3.26},{"x":0.3,"y":3.26},{"x":0.42,"y":3.26},
{"x":-0.77,"y":1.29},{"x":-0.74,"y":1.09},{"x":-0.84,"y":0.94},{"x":-0.87,"y":0.73},{"x":-0.74,"y":0.38},{"x":-0.7,"y":0.55},{"x":0.73,"y":1.29},{"x":0.73,"y":1.09},{"x":0.8,"y":0.83},{"x":0.73,"y":0.68},{"x":0.73,"y":0.53},{"x":0.8,"y":0.35},{"x":0.75,"y":0.95},{"x":-0.8,"y":0.62}],
"ell": [{"set":"rHDL","x":386,"y":948.5,"ang":-21.3},{"set":"apoA-I","x":453,"y":948.5,"ang":21.3},{"set":"Native HDL","x":325,"y":1004,"ang":-46.4},{"set":"SUV","x":514,"y":1004,"ang":46.4},{"set":"rHDL","x":386,"y":1300.5,"ang":201.3},{"set":"apoA-I","x":453,"y":1300.5,"ang":158.7},{"set":"Native HDL","x":325,"y":1245,"ang":226.4},{"set":"SUV","x":514,"y":1245,"ang":133.6}],
"num": [{"x":360,"y":882,"n":"87"},{"x":483,"y":882,"n":"0"},{"x":272,"y":952,"n":"10"},{"x":579,"y":953,"n":"16"},{"x":359,"y":990,"n":"6"},{"x":418,"y":988,"n":"0"},{"x":477,"y":993,"n":"0"},{"x":395,"y":1043,"n":"0"},{"x":444,"y":1043,"n":"0"},{"x":420,"y":1072,"n":"0"},{"x":388,"y":1083,"n":"0"},{"x":403,"y":1093,"n":"0"},{"x":436,"y":1092,"n":"1"},{"x":452,"y":1079,"n":"19"},{"x":420,"y":1112,"n":"2"},
{"x":418,"y":1142,"n":"28"},{"x":434,"y":1158,"n":"24"},{"x":402,"y":1162,"n":"1"},{"x":388,"y":1173,"n":"0"},{"x":448,"y":1173,"n":"10"},{"x":419,"y":1181,"n":"0"},{"x":398,"y":1209,"n":"0"},{"x":443,"y":1210,"n":"0"},{"x":359,"y":1262,"n":"8"},{"x":417,"y":1261,"n":"0"},{"x":476,"y":1261,"n":"0"},{"x":275,"y":1297,"n":"40"},{"x":571,"y":1301,"n":"30"},{"x":362,"y":1370,"n":"27"},{"x":477,"y":1369,"n":"0"}],
"lab": [{"x":332,"y":780,"t":"rHDL"},{"x":508,"y":780,"t":"apoA-I"},{"x":226,"y":870,"t":"Native HDL"},{"x":618,"y":870,"t":"SUV"},{"x":240,"y":1102,"t":"Up regulated"},{"x":581,"y":1144,"t":"Down regulated"},{"x":232,"y":1379,"t":"Native HDL"},{"x":625,"y":1379,"t":"SUV"},{"x":333,"y":1467,"t":"rHDL"},{"x":506,"y":1467,"t":"apoA-I"}]
},
"concat": [
 {"width": 313, "height": 266,
  "layer": [
   {"data": {"name": "va"}, "mark": {"type": "point", "filled": true, "size": 110, "opacity": 1, "strokeWidth": 0.7},
    "encoding": {
     "x": {"field": "x", "type": "quantitative", "title": "Log2 (fold change)", "scale": {"domain": [-3.14, 3.1], "nice": false, "zero": false}, "axis": {"values": [-3,-2,-1,0,1,2,3], "format": "~g", "labelOverlap": false}},
     "y": {"field": "y", "type": "quantitative", "title": "–Log10 (corrected P-value)", "scale": {"domain": [0, 3.63], "nice": false}, "axis": {"values": [0,0.5,1,1.5,2,2.5,3,3.5], "labelExpr": "datum.value === 0 ? '0' : format(datum.value, '.1f')", "titlePadding": 9, "labelOverlap": false}},
     "fill": {"condition": {"test": "datum.y > 1.3 && abs(datum.x) > 0.58", "value": "#f01212"}, "value": "#303030"},
     "stroke": {"condition": {"test": "datum.y > 1.3 && abs(datum.x) > 0.58", "value": "#e00000"}, "value": "#121212"}}},
   {"data": {"values": [{"v": -0.585}, {"v": 0.585}]}, "mark": {"type": "rule", "color": "#4fa84f", "strokeWidth": 1.3}, "encoding": {"x": {"field": "v", "type": "quantitative", "title": "Log2 (fold change)", "axis": {"values": [-3,-2,-1,0,1,2,3], "format": "~g", "labelOverlap": false}}}},
   {"data": {"values": [{"v": 1.301}]}, "mark": {"type": "rule", "color": "#4fa84f", "strokeWidth": 1.3}, "encoding": {"y": {"field": "v", "type": "quantitative", "title": "–Log10 (corrected P-value)", "axis": {"values": [0,0.5,1,1.5,2,2.5,3,3.5], "labelExpr": "datum.value === 0 ? '0' : format(datum.value, '.1f')", "titlePadding": 9, "labelOverlap": false}}}},
   {"data": {"values": [{"x": -4.275, "y": 3.766, "t": "a"}]}, "mark": {"type": "text", "fontSize": 25, "fontWeight": "bold", "baseline": "alphabetic", "align": "center"},
    "encoding": {"x": {"field": "x", "type": "quantitative", "title": "Log2 (fold change)", "axis": {"values": [-3,-2,-1,0,1,2,3], "format": "~g", "labelOverlap": false}}, "y": {"field": "y", "type": "quantitative", "title": "–Log10 (corrected P-value)", "axis": {"values": [0,0.5,1,1.5,2,2.5,3,3.5], "labelExpr": "datum.value === 0 ? '0' : format(datum.value, '.1f')", "titlePadding": 9, "labelOverlap": false}}, "text": {"field": "t"}}},
   {"data": {"values": [{"x": -0.03, "y": 3.766, "t": "SUV"}]}, "mark": {"type": "text", "fontSize": 18, "baseline": "alphabetic", "align": "center"},
    "encoding": {"x": {"field": "x", "type": "quantitative", "title": "Log2 (fold change)", "axis": {"values": [-3,-2,-1,0,1,2,3], "format": "~g", "labelOverlap": false}}, "y": {"field": "y", "type": "quantitative", "title": "–Log10 (corrected P-value)", "axis": {"values": [0,0.5,1,1.5,2,2.5,3,3.5], "labelExpr": "datum.value === 0 ? '0' : format(datum.value, '.1f')", "titlePadding": 9, "labelOverlap": false}}, "text": {"field": "t"}}}
  ]},
 {"width": 317, "height": 266,
  "layer": [
   {"data": {"name": "vb"}, "mark": {"type": "point", "filled": true, "size": 110, "opacity": 1, "strokeWidth": 0.7},
    "encoding": {
     "x": {"field": "x", "type": "quantitative", "title": "Log2 (fold change)", "scale": {"domain": [-1.037, 1.01], "nice": false, "zero": false}, "axis": {"values": [-1,-0.5,0,0.5,1], "format": "~g", "labelOverlap": false}},
     "y": {"field": "y", "type": "quantitative", "title": "–Log10 (corrected P-value)", "scale": {"domain": [0, 1.885], "nice": false}, "axis": {"values": [0,0.2,0.4,0.6,0.8,1,1.2,1.4,1.6,1.8], "labelExpr": "datum.value === 0 ? '0' : format(datum.value, '.1f')", "titlePadding": 11, "labelOverlap": false}},
     "fill": {"condition": {"test": "datum.y > 1.3 && abs(datum.x) > 0.58", "value": "#f01212"}, "value": "#303030"},
     "stroke": {"condition": {"test": "datum.y > 1.3 && abs(datum.x) > 0.58", "value": "#e00000"}, "value": "#121212"}}},
   {"data": {"values": [{"v": -0.585}, {"v": 0.585}]}, "mark": {"type": "rule", "color": "#4fa84f", "strokeWidth": 1.3}, "encoding": {"x": {"field": "v", "type": "quantitative", "title": "Log2 (fold change)", "axis": {"values": [-1,-0.5,0,0.5,1], "format": "~g", "labelOverlap": false}}}},
   {"data": {"values": [{"v": 1.301}]}, "mark": {"type": "rule", "color": "#4fa84f", "strokeWidth": 1.3}, "encoding": {"y": {"field": "v", "type": "quantitative", "title": "–Log10 (corrected P-value)", "axis": {"values": [0,0.2,0.4,0.6,0.8,1,1.2,1.4,1.6,1.8], "labelExpr": "datum.value === 0 ? '0' : format(datum.value, '.1f')", "titlePadding": 11, "labelOverlap": false}}}},
   {"data": {"values": [{"x": -1.419, "y": 1.956, "t": "b"}]}, "mark": {"type": "text", "fontSize": 25, "fontWeight": "bold", "baseline": "alphabetic", "align": "center"},
    "encoding": {"x": {"field": "x", "type": "quantitative", "title": "Log2 (fold change)", "axis": {"values": [-1,-0.5,0,0.5,1], "format": "~g", "labelOverlap": false}}, "y": {"field": "y", "type": "quantitative", "title": "–Log10 (corrected P-value)", "axis": {"values": [0,0.2,0.4,0.6,0.8,1,1.2,1.4,1.6,1.8], "labelExpr": "datum.value === 0 ? '0' : format(datum.value, '.1f')", "titlePadding": 11, "labelOverlap": false}}, "text": {"field": "t"}}},
   {"data": {"values": [{"x": -0.011, "y": 1.956, "t": "apoA-I"}]}, "mark": {"type": "text", "fontSize": 18, "baseline": "alphabetic", "align": "center"},
    "encoding": {"x": {"field": "x", "type": "quantitative", "title": "Log2 (fold change)", "axis": {"values": [-1,-0.5,0,0.5,1], "format": "~g", "labelOverlap": false}}, "y": {"field": "y", "type": "quantitative", "title": "–Log10 (corrected P-value)", "axis": {"values": [0,0.2,0.4,0.6,0.8,1,1.2,1.4,1.6,1.8], "labelExpr": "datum.value === 0 ? '0' : format(datum.value, '.1f')", "titlePadding": 11, "labelOverlap": false}}, "text": {"field": "t"}}}
  ]},
 {"width": 313, "height": 271,
  "layer": [
   {"data": {"name": "vc"}, "mark": {"type": "point", "filled": true, "size": 110, "opacity": 1, "strokeWidth": 0.7},
    "encoding": {
     "x": {"field": "x", "type": "quantitative", "title": "Log2 (fold change)", "scale": {"domain": [-3.08, 3.06], "nice": false, "zero": false}, "axis": {"values": [-3,-2,-1,0,1,2,3], "format": "~g", "labelOverlap": false}},
     "y": {"field": "y", "type": "quantitative", "title": "–Log10 (corrected P-value)", "scale": {"domain": [0, 4.35], "nice": false}, "axis": {"values": [0,1,2,3,4], "format": "d", "titlePadding": 24, "labelOverlap": false}},
     "fill": {"condition": {"test": "datum.y > 1.3 && abs(datum.x) > 0.58", "value": "#f01212"}, "value": "#303030"},
     "stroke": {"condition": {"test": "datum.y > 1.3 && abs(datum.x) > 0.58", "value": "#e00000"}, "value": "#121212"}}},
   {"data": {"values": [{"v": -0.585}, {"v": 0.585}]}, "mark": {"type": "rule", "color": "#4fa84f", "strokeWidth": 1.3}, "encoding": {"x": {"field": "v", "type": "quantitative", "title": "Log2 (fold change)", "axis": {"values": [-3,-2,-1,0,1,2,3], "format": "~g", "labelOverlap": false}}}},
   {"data": {"values": [{"v": 1.301}]}, "mark": {"type": "rule", "color": "#4fa84f", "strokeWidth": 1.3}, "encoding": {"y": {"field": "v", "type": "quantitative", "title": "–Log10 (corrected P-value)", "axis": {"values": [0,1,2,3,4], "format": "d", "titlePadding": 24, "labelOverlap": false}}}},
   {"data": {"values": [{"x": -4.198, "y": 4.473, "t": "c"}]}, "mark": {"type": "text", "fontSize": 25, "fontWeight": "bold", "baseline": "alphabetic", "align": "center"},
    "encoding": {"x": {"field": "x", "type": "quantitative", "title": "Log2 (fold change)", "axis": {"values": [-3,-2,-1,0,1,2,3], "format": "~g", "labelOverlap": false}}, "y": {"field": "y", "type": "quantitative", "title": "–Log10 (corrected P-value)", "axis": {"values": [0,1,2,3,4], "format": "d", "titlePadding": 24, "labelOverlap": false}}, "text": {"field": "t"}}},
   {"data": {"values": [{"x": -0.02, "y": 4.473, "t": "rHDL"}]}, "mark": {"type": "text", "fontSize": 18, "baseline": "alphabetic", "align": "center"},
    "encoding": {"x": {"field": "x", "type": "quantitative", "title": "Log2 (fold change)", "axis": {"values": [-3,-2,-1,0,1,2,3], "format": "~g", "labelOverlap": false}}, "y": {"field": "y", "type": "quantitative", "title": "–Log10 (corrected P-value)", "axis": {"values": [0,1,2,3,4], "format": "d", "titlePadding": 24, "labelOverlap": false}}, "text": {"field": "t"}}}
  ]},
 {"width": 317, "height": 271,
  "layer": [
   {"data": {"name": "vd"}, "mark": {"type": "point", "filled": true, "size": 110, "opacity": 1, "strokeWidth": 0.7},
    "encoding": {
     "x": {"field": "x", "type": "quantitative", "title": "Log2 (fold change)", "scale": {"domain": [-3.12, 3.08], "nice": false, "zero": false}, "axis": {"values": [-3,-2,-1,0,1,2,3], "format": "~g", "labelOverlap": false}},
     "y": {"field": "y", "type": "quantitative", "title": "–Log10 (corrected P-value)", "scale": {"domain": [0, 4.14], "nice": false}, "axis": {"values": [0,1,2,3,4], "format": "d", "titlePadding": 28, "labelOverlap": false}},
     "fill": {"condition": {"test": "datum.y > 1.3 && abs(datum.x) > 0.58", "value": "#f01212"}, "value": "#303030"},
     "stroke": {"condition": {"test": "datum.y > 1.3 && abs(datum.x) > 0.58", "value": "#e00000"}, "value": "#121212"}}},
   {"data": {"values": [{"v": -0.585}, {"v": 0.585}]}, "mark": {"type": "rule", "color": "#4fa84f", "strokeWidth": 1.3}, "encoding": {"x": {"field": "v", "type": "quantitative", "title": "Log2 (fold change)", "axis": {"values": [-3,-2,-1,0,1,2,3], "format": "~g", "labelOverlap": false}}}},
   {"data": {"values": [{"v": 1.301}]}, "mark": {"type": "rule", "color": "#4fa84f", "strokeWidth": 1.3}, "encoding": {"y": {"field": "v", "type": "quantitative", "title": "–Log10 (corrected P-value)", "axis": {"values": [0,1,2,3,4], "format": "d", "titlePadding": 28, "labelOverlap": false}}}},
   {"data": {"values": [{"x": -4.28, "y": 4.258, "t": "d"}]}, "mark": {"type": "text", "fontSize": 25, "fontWeight": "bold", "baseline": "alphabetic", "align": "center"},
    "encoding": {"x": {"field": "x", "type": "quantitative", "title": "Log2 (fold change)", "axis": {"values": [-3,-2,-1,0,1,2,3], "format": "~g", "labelOverlap": false}}, "y": {"field": "y", "type": "quantitative", "title": "–Log10 (corrected P-value)", "axis": {"values": [0,1,2,3,4], "format": "d", "titlePadding": 28, "labelOverlap": false}}, "text": {"field": "t"}}},
   {"data": {"values": [{"x": -0.035, "y": 4.258, "t": "Native HDL"}]}, "mark": {"type": "text", "fontSize": 18, "baseline": "alphabetic", "align": "center"},
    "encoding": {"x": {"field": "x", "type": "quantitative", "title": "Log2 (fold change)", "axis": {"values": [-3,-2,-1,0,1,2,3], "format": "~g", "labelOverlap": false}}, "y": {"field": "y", "type": "quantitative", "title": "–Log10 (corrected P-value)", "axis": {"values": [0,1,2,3,4], "format": "d", "titlePadding": 28, "labelOverlap": false}}, "text": {"field": "t"}}}
  ]},
 {"width": 313, "height": 695, "view": {"stroke": null},
  "encoding": {
   "x": {"field": "x", "type": "quantitative", "scale": {"domain": [77, 390], "nice": false, "zero": false}, "axis": null},
   "y": {"field": "y", "type": "quantitative", "scale": {"domain": [781, 1476], "nice": false, "zero": false, "reverse": true}, "axis": null}
  },
  "layer": [
   {"data": {"name": "ell"}, "transform": [{"filter": "datum.set === 'rHDL'"}],
    "mark": {"type": "point", "shape": "M 0 -1 C 0.1796 -1 0.3252 -0.5523 0.3252 0 C 0.3252 0.5523 0.1796 1 0 1 C -0.1796 1 -0.3252 0.5523 -0.3252 0 C -0.3252 -0.5523 -0.1796 -1 0 -1 Z", "size": 106276, "filled": true, "opacity": 1, "strokeWidth": 0,
     "fill": {"gradient": "linear", "x1": 0.5, "y1": 0, "x2": 0.5, "y2": 1, "stops": [{"offset": 0, "color": "#093a83"}, {"offset": 0.08, "color": "#123f88"}, {"offset": 0.2, "color": "#5a7fb8"}, {"offset": 0.3, "color": "#d6e1f0"}, {"offset": 0.37, "color": "#ffffff"}, {"offset": 1, "color": "#ffffff"}]}},
    "encoding": {"angle": {"field": "ang", "type": "quantitative", "scale": null}}},
   {"data": {"name": "ell"}, "transform": [{"filter": "datum.set === 'apoA-I'"}],
    "mark": {"type": "point", "shape": "M 0 -1 C 0.1796 -1 0.3252 -0.5523 0.3252 0 C 0.3252 0.5523 0.1796 1 0 1 C -0.1796 1 -0.3252 0.5523 -0.3252 0 C -0.3252 -0.5523 -0.1796 -1 0 -1 Z", "size": 106276, "filled": true, "opacity": 1, "strokeWidth": 0,
     "fill": {"gradient": "linear", "x1": 0.5, "y1": 0, "x2": 0.5, "y2": 1, "stops": [{"offset": 0, "color": "#3a3a3a"}, {"offset": 0.08, "color": "#454545"}, {"offset": 0.2, "color": "#8a8a8a"}, {"offset": 0.3, "color": "#dedede"}, {"offset": 0.37, "color": "#ffffff"}, {"offset": 1, "color": "#ffffff"}]}},
    "encoding": {"angle": {"field": "ang", "type": "quantitative", "scale": null}}},
   {"data": {"name": "ell"}, "transform": [{"filter": "datum.set === 'Native HDL'"}],
    "mark": {"type": "point", "shape": "M 0 -1 C 0.1796 -1 0.3252 -0.5523 0.3252 0 C 0.3252 0.5523 0.1796 1 0 1 C -0.1796 1 -0.3252 0.5523 -0.3252 0 C -0.3252 -0.5523 -0.1796 -1 0 -1 Z", "size": 106276, "filled": true, "opacity": 1, "strokeWidth": 0,
     "fill": {"gradient": "linear", "x1": 0.5, "y1": 0, "x2": 0.5, "y2": 1, "stops": [{"offset": 0, "color": "#e50000"}, {"offset": 0.08, "color": "#e80a0a"}, {"offset": 0.2, "color": "#f15a5a"}, {"offset": 0.3, "color": "#fbd0d0"}, {"offset": 0.38, "color": "#ffffff"}, {"offset": 1, "color": "#ffffff"}]}},
    "encoding": {"angle": {"field": "ang", "type": "quantitative", "scale": null}}},
   {"data": {"name": "ell"}, "transform": [{"filter": "datum.set === 'SUV'"}],
    "mark": {"type": "point", "shape": "M 0 -1 C 0.1796 -1 0.3252 -0.5523 0.3252 0 C 0.3252 0.5523 0.1796 1 0 1 C -0.1796 1 -0.3252 0.5523 -0.3252 0 C -0.3252 -0.5523 -0.1796 -1 0 -1 Z", "size": 106276, "filled": true, "opacity": 1, "strokeWidth": 0,
     "fill": {"gradient": "linear", "x1": 0.5, "y1": 0, "x2": 0.5, "y2": 1, "stops": [{"offset": 0, "color": "#8a7d47"}, {"offset": 0.08, "color": "#928550"}, {"offset": 0.2, "color": "#b5aa80"}, {"offset": 0.3, "color": "#e8e4d4"}, {"offset": 0.38, "color": "#ffffff"}, {"offset": 1, "color": "#ffffff"}]}},
    "encoding": {"angle": {"field": "ang", "type": "quantitative", "scale": null}}},
   {"data": {"name": "ell"},
    "mark": {"type": "point", "shape": "M 0 -1 C 0.1796 -1 0.3252 -0.5523 0.3252 0 C 0.3252 0.5523 0.1796 1 0 1 C -0.1796 1 -0.3252 0.5523 -0.3252 0 C -0.3252 -0.5523 -0.1796 -1 0 -1 Z", "size": 106276, "filled": false, "opacity": 1, "color": "#111111", "strokeWidth": 2},
    "encoding": {"angle": {"field": "ang", "type": "quantitative", "scale": null}}},
   {"data": {"values": [{"x": 188, "x2": 647, "y": 1125}]}, "mark": {"type": "rule", "color": "#000", "strokeWidth": 3.5},
    "encoding": {"x2": {"field": "x2"}}},
   {"data": {"values": [{"x": 437, "y": 1091, "k": "up"}, {"x": 434, "y": 1157, "k": "down"}]},
    "mark": {"type": "point", "shape": "circle", "size": 484, "filled": false, "opacity": 1, "strokeWidth": 1.8},
    "encoding": {"color": {"field": "k", "type": "nominal", "scale": {"domain": ["up", "down"], "range": ["#e3141b", "#13a04b"]}, "legend": null}}},
   {"data": {"name": "num"}, "mark": {"type": "text", "fontSize": 14, "baseline": "middle", "align": "center", "color": "#000"},
    "encoding": {"text": {"field": "n"}}},
   {"data": {"name": "lab"}, "mark": {"type": "text", "fontSize": 17, "baseline": "middle", "align": "center", "color": "#000"},
    "encoding": {"text": {"field": "t"}}},
   {"data": {"values": [{"x": 148, "y": 780, "t": "e"}]}, "mark": {"type": "text", "fontSize": 25, "fontWeight": "bold", "baseline": "alphabetic", "align": "center", "color": "#000"},
    "encoding": {"text": {"field": "t"}}}
  ]}
]
}
